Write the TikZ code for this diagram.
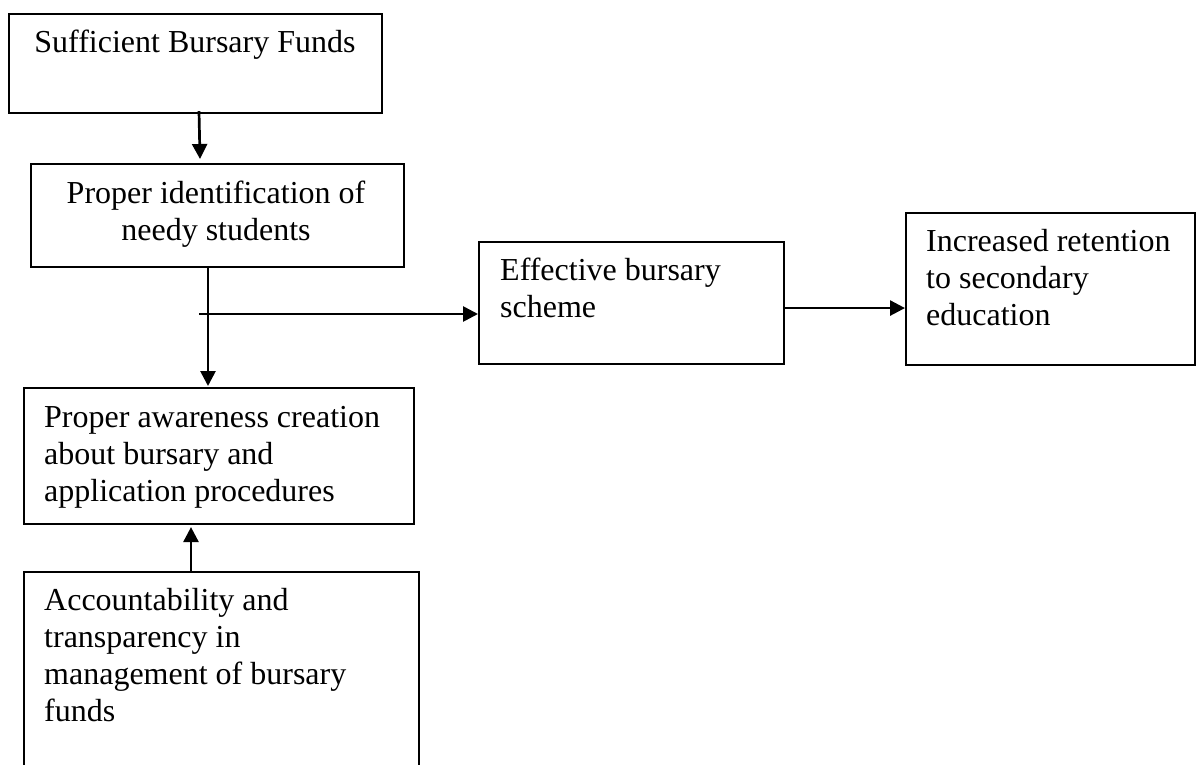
\documentclass[tikz,border=0pt]{standalone}
\usepackage{fontspec}
\setmainfont{Liberation Serif}
\usetikzlibrary{arrows.meta,calc}
\begin{document}
\begin{tikzpicture}[x=1pt,y=-1pt,
  box/.style={draw,line width=2.1pt,inner sep=0pt,anchor=north west},
  txt/.style={inner sep=0pt,font=\fontsize{32}{37}\selectfont},
  arr/.style={line width=2.7pt,-{Triangle[length=15pt,width=15pt]}}]
  % canvas
  \fill[white,use as bounding box] (0,0) rectangle (1197,765);
  \clip (0,0) rectangle (1197,765);

  % boxes
  \node[box,minimum width=373pt,minimum height=99pt]  (b1) at (8,13)   {};
  \node[box,minimum width=373pt,minimum height=103pt] (b2) at (30,163) {};
  \node[box,minimum width=305pt,minimum height=122pt] (b3) at (478,241) {};
  \node[box,minimum width=289pt,minimum height=152pt] (b4) at (905,212) {};
  \node[box,minimum width=390pt,minimum height=136pt] (b5) at (23,387) {};
  \node[box,minimum width=395pt,minimum height=230pt] (b6) at (23,571) {};

  % texts (a multi-line node sits on the baseline of its last line)
  \node[txt,anchor=base] at (195,53) {Sufficient Bursary Funds};
  \node[txt,anchor=base,align=center] at (216,240) {Proper identification of\\needy students};
  \node[txt,anchor=base west,align=left] at (500,317) {Effective bursary\\scheme};
  \node[txt,anchor=base west,align=left] at (926,325) {Increased retention\\to secondary\\education};
  \node[txt,anchor=base west,align=left] at (44,501) {Proper awareness creation\\about bursary and\\application procedures};
  \node[txt,anchor=base west,align=left] at (44,721) {Accountability and\\transparency in\\management of bursary\\funds};

  % connectors
  \draw[arr] ($(b1.south west)+(191,-3)$) -- ($(b2.north west)+(170,-4)$);
  \draw[arr] ($(b2.south west)+(178,0)$) -- ($(b5.north west)+(185,-1)$);
  \coordinate (hs) at (199,314);
  \draw[arr] (hs) -- (hs -| b3.west);
  \coordinate (c34) at ($(b3.east)+(0,5)$);
  \draw[arr] (c34) -- (c34 -| b4.west);
  \draw[arr] ($(b6.north west)+(168,0)$) -- ($(b5.south west)+(168,2)$);
\end{tikzpicture}
\end{document}
